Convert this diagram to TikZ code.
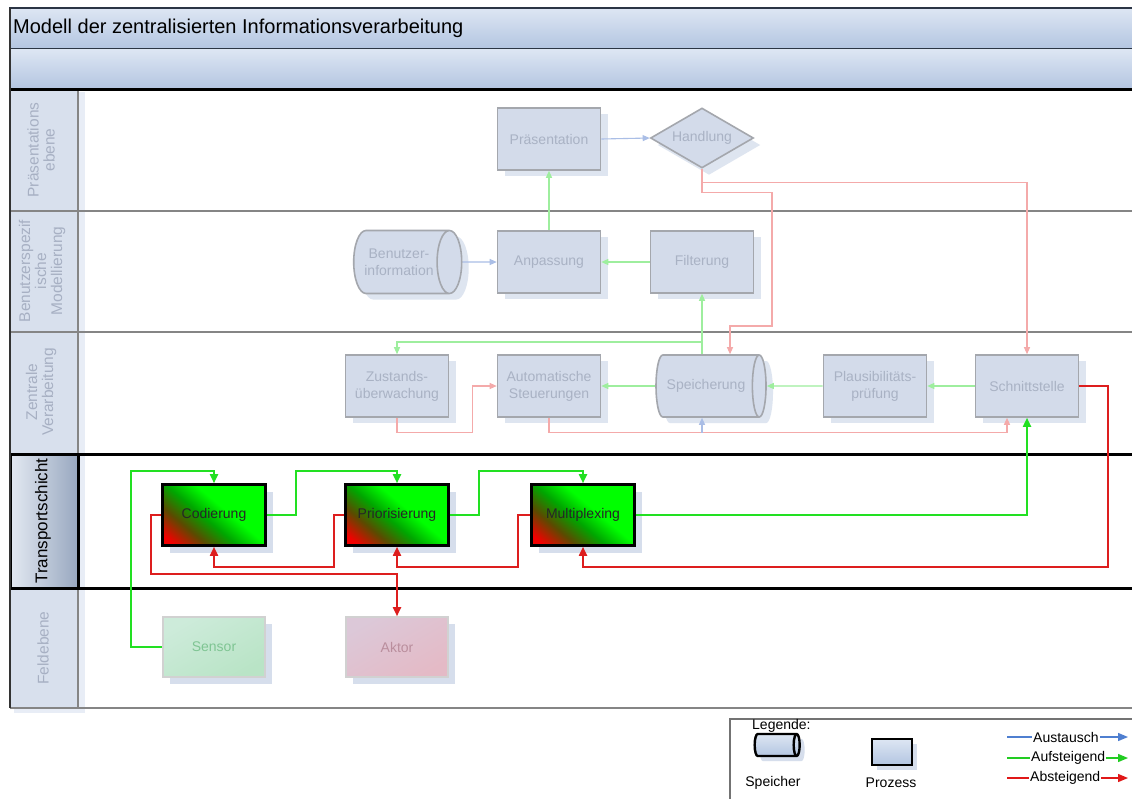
\documentclass[tikz,border=0pt]{standalone}
\usepackage{fontspec}
\setmainfont{Liberation Sans}
\usetikzlibrary{shapes.geometric,arrows.meta,shadows,calc}

\definecolor{fadefill}{HTML}{D3DBEA}
\definecolor{fadedraw}{HTML}{A4A7AD}
\definecolor{fadetext}{HTML}{A9B2C4}
\definecolor{fadeshadow}{HTML}{DEE5F0}
\definecolor{fgreen}{HTML}{9EEE9E}
\definecolor{fred}{HTML}{F4AAAA}
\definecolor{fblue}{HTML}{AABEE6}
\definecolor{sgreen}{HTML}{22E022}
\definecolor{sred}{HTML}{DD1E1E}
\definecolor{hdrtop}{HTML}{DDE6F3}
\definecolor{hdrbot}{HTML}{B3C5E1}
\definecolor{hdrline}{HTML}{2B3545}
\definecolor{lanefill}{HTML}{D8E0ED}
\definecolor{laneshadow}{HTML}{E8EDF6}
\definecolor{lanetext}{HTML}{A7B0C3}
\definecolor{laneline}{HTML}{858585}
\definecolor{tshadow}{HTML}{D6DEEC}
\definecolor{legblue}{HTML}{4F7FD0}
\definecolor{leggreen}{HTML}{22CC22}
\definecolor{legred}{HTML}{E01818}
\definecolor{sensfill}{HTML}{B9E4C6}
\definecolor{sensfilltop}{HTML}{CDEBDA}
\definecolor{aktfill}{HTML}{E4BAC6}
\definecolor{aktfilltop}{HTML}{DCC8D8}

% diagonal red-to-green fill of the transport layer boxes
\pgfdeclareverticalshading{transfade}{100bp}{color(0bp)=(red); color(20bp)=(red!95!black); color(33bp)=(red!55!green!65!black); color(45bp)=(green!65!black); color(57bp)=(green); color(100bp)=(green)}

\tikzset{
  nodetxt/.style={font=\fontsize{14}{17}\selectfont, align=center},
  fproc/.style={rectangle, nodetxt, draw=fadedraw, line width=1.6pt, fill=fadefill,
    text=fadetext, minimum width=103pt, minimum height=62pt, inner sep=2pt,
    general shadow={fill=fadeshadow, shadow xshift=7pt, shadow yshift=-6pt}},
  fstore/.style={cylinder, shape border rotate=0, aspect=0.8, nodetxt, draw=fadedraw,
    line width=1.6pt, fill=fadefill, text=fadetext, inner sep=2pt,
    general shadow={fill=fadeshadow, shadow xshift=7pt, shadow yshift=-6pt}},
  fdec/.style={diamond, aspect=1.7, nodetxt, draw=fadedraw, line width=1.6pt,
    fill=fadefill, text=fadetext, inner sep=0pt, minimum width=103pt, minimum height=60pt,
    general shadow={fill=fadeshadow, shadow xshift=7pt, shadow yshift=-7pt}},
  tproc/.style={rectangle, nodetxt, draw=black, line width=2.6pt, shade, shading=transfade,
    shading angle=-40, minimum width=103pt, minimum height=61pt, text=black!85,
    general shadow={fill=tshadow, shadow xshift=7pt, shadow yshift=-7pt}},
  fieldbox/.style={rectangle, nodetxt, line width=1.6pt, minimum width=102pt,
    minimum height=60pt,
    general shadow={fill=tshadow, shadow xshift=7pt, shadow yshift=-7pt}},
  lanelab/.style={rotate=90, align=center, text=lanetext,
    font=\fontsize{15.5}{16}\selectfont},
  fg/.style={draw=fgreen, line width=1.1pt, -{Triangle[length=7pt,width=6pt]}},
  fr/.style={draw=fred, line width=1.1pt, -{Triangle[length=7pt,width=6pt]}},
  fb/.style={draw=fblue, line width=1.1pt, -{Triangle[length=7pt,width=6pt]}},
  sg/.style={draw=sgreen, line width=1.8pt, -{Triangle[length=9pt,width=8pt]}},
  sr/.style={draw=sred, line width=1.8pt, -{Triangle[length=9pt,width=8pt]}},
  legtext/.style={font=\fontsize{14}{16}\selectfont, inner sep=1pt},
  legline/.style={line width=1.3pt},
}

\begin{document}
\begin{tikzpicture}[x=1pt,y=-1pt]
\useasboundingbox (0,0) rectangle (1132,798);
\clip (0,0) rectangle (1132,798);

% header bars
\shade[top color=hdrtop, bottom color=hdrbot, draw=hdrline, line width=1.2pt]
  (10,8) rectangle (1145,49);
\shade[top color=hdrtop, bottom color=hdrbot] (10,49) rectangle (1145,89);
\node[anchor=west, font=\fontsize{20}{24}\selectfont, inner sep=0pt] (title) at (13,28)
  {Modell der zentralisierten Informationsverarbeitung};

% lane area and label column
\fill[white] (10,89) rectangle (1145,708);
\fill[laneshadow] (14,92) rectangle (85,713);
\fill[lanefill] (10,89) rectangle (78,708);
\draw[laneline, line width=1.5pt] (78,89) -- (78,708);
\draw[laneline, line width=2.5pt] (10,211) -- (1145,211);
\draw[laneline, line width=2.5pt] (10,332) -- (1145,332);
\draw[laneline, line width=2pt] (10,708) -- (1145,708);
\shade[left color=white!30!lanefill, right color=hdrbot!85!black, draw=black, line width=3pt]
  (10,454) rectangle (78,588);
\draw[line width=3pt] (10,454) -- (1145,454);
\draw[line width=3pt] (10,588) -- (1145,588);
\draw[line width=3pt] (10,89) -- (1145,89);
\draw[black!80, line width=2pt] (10,8) -- (10,708);

% lane labels
\node[lanelab] (lab1) at (41,150) {Präsentations\\ebene};
\node[lanelab] (lab2) at (42,271) {Benutzerspezif\\ische\\Modellierung};
\node[lanelab] (lab3) at (41,392) {Zentrale\\Verarbeitung};
\node[lanelab, text=black, font=\fontsize{17}{18}\selectfont] (lab4) at (43,521) {Transportschicht};
\node[lanelab] (lab5) at (43,648) {Feldebene};

% presentation layer
\node[fproc] (pres) at (549,139) {Präsentation};
\node[fdec] (hand) at (702,138) {Handlung};

% user specific modelling (cylinder: height runs along its axis)
\node[fstore, minimum height=108pt, minimum width=63pt] (binfo) at (399,262) {Benutzer-\\information};
\node[fproc] (anp) at (549,262) {Anpassung};
\node[fproc] (filt) at (702,262) {Filterung};

% central processing
\node[fstore, minimum height=110pt, minimum width=62pt] (spei) at (706,386) {Speicherung};
\node[fproc] (zust) at (397,386) {Zustands-\\überwachung};
\node[fproc] (auto) at (549,386) {Automatische\\Steuerungen};
\node[fproc] (plaus) at (875,386) {Plausibilitäts-\\prüfung};
\node[fproc] (schn) at (1027,386) {Schnittstelle};

% transport layer
\node[tproc] (cod) at (214,515) {Codierung};
\node[tproc] (prio) at (397,515) {Priorisierung};
\node[tproc] (mux) at (583,515) {Multiplexing};

% field level
\node[fieldbox, draw=black!18, top color=sensfilltop, bottom color=sensfill, shading angle=30,
  text=green!25!fadetext] (sens) at (214,647) {Sensor};
\node[fieldbox, draw=black!18, top color=aktfilltop, bottom color=aktfill, shading angle=30,
  text=red!20!fadetext] (akt) at (397,647) {Aktor};

% routing helpers
\coordinate (gtop) at (0,342);
\coordinate (rbend) at (772,326);

% faded connectors of the upper layers
\draw[fb] (pres.east) -- (hand.west);
\draw[fb] (binfo.east) -- (anp.west);
\draw[fg] (filt.west) -- (anp.east);
\draw[fg] (anp.north) -- (pres.south);
\draw[fg] (filt.south |- spei.north) -- (filt.south);
\draw[fg] (filt.south |- gtop) -| (zust.north);
\draw[fg] (schn.west) -- (plaus.east);
\draw[fg] (plaus.west) -- (spei.east);
\draw[fg] (spei.west) -- (auto.east);
\draw[fr] (hand.south) -- ++(0,14) -| (schn.north);
\draw[fr] (hand.south) -- ++(0,24) -| (rbend) -| ([xshift=24pt]spei.north);
\draw[fr] (zust.south) -- ++(0,15) -| ([xshift=-24pt]auto.west) -- (auto.west);
\draw[fr] (auto.south) -- ++(0,15) -| ([xshift=-20pt]schn.south);
\draw[fb] (filt.south |- zust.south) ++(0,15) -- (filt.south |- spei.south);

% transport layer connectors
\draw[sg] (sens.west) -- ++(-31,0) |- ($(cod.north)+(0,-12)$) -- (cod.north);
\draw[sg] (cod.east) -- ++(29,0) |- ($(prio.north)+(0,-12)$) -- (prio.north);
\draw[sg] (prio.east) -- ++(29,0) |- ($(mux.north)+(0,-12)$) -- (mux.north);
\draw[sg] (mux.east) -| (schn.south);
\draw[sr] (schn.east) -- ++(29,0) |- ($(mux.south)+(0,20)$) -- (mux.south);
\draw[sr] (mux.west) -- ++(-12,0) |- ($(prio.south)+(0,20)$) -- (prio.south);
\draw[sr] (prio.west) -- ++(-10,0) |- ($(cod.south)+(0,20)$) -- (cod.south);
\draw[sr] (cod.west) -- ++(-10,0) |- ($(akt.north)+(0,-42)$) -- (akt.north);

% legend
\draw[fill=white, draw=black!55, line width=1.5pt] (730,719) rectangle (1145,805);
\node[legtext, anchor=west] (legt) at (751,726) {Legende:};
\node[cylinder, shape border rotate=0, aspect=0.9, draw=black, line width=2.4pt,
  top color=hdrtop, bottom color=hdrbot, minimum height=45pt, minimum width=22pt,
  general shadow={fill=tshadow, shadow xshift=5pt, shadow yshift=-5pt}] (legs) at (774,745) {};
\node[legtext] (legst) at (773,783) {Speicher};
\node[rectangle, draw=black, line width=2.4pt, top color=hdrtop, bottom color=hdrbot,
  minimum width=40pt, minimum height=26pt,
  general shadow={fill=tshadow, shadow xshift=5pt, shadow yshift=-5pt}] (legp) at (892,752) {};
\node[legtext] (legpt) at (891,783) {Prozess};
\coordinate (legl) at (1007,0);
\coordinate (legr) at (1128,0);
\node[legtext, anchor=west] (lx1) at (1032,737) {Austausch};
\node[legtext, anchor=west] (lx2) at (1030,758) {Aufsteigend};
\node[legtext, anchor=west] (lx3) at (1029,778) {Absteigend};
\draw[legline, draw=legblue] (lx1.west -| legl) -- (lx1.west);
\draw[legline, draw=legblue, -{Triangle[length=10pt,width=8pt]}] (lx1.east) -- (lx1.east -| legr);
\draw[legline, draw=leggreen] (lx2.west -| legl) -- (lx2.west);
\draw[legline, draw=leggreen, -{Triangle[length=10pt,width=8pt]}] (lx2.east) -- (lx2.east -| legr);
\draw[legline, draw=legred] (lx3.west -| legl) -- (lx3.west);
\draw[legline, draw=legred, -{Triangle[length=10pt,width=8pt]}] (lx3.east) -- (lx3.east -| legr);
\end{tikzpicture}
\end{document}
